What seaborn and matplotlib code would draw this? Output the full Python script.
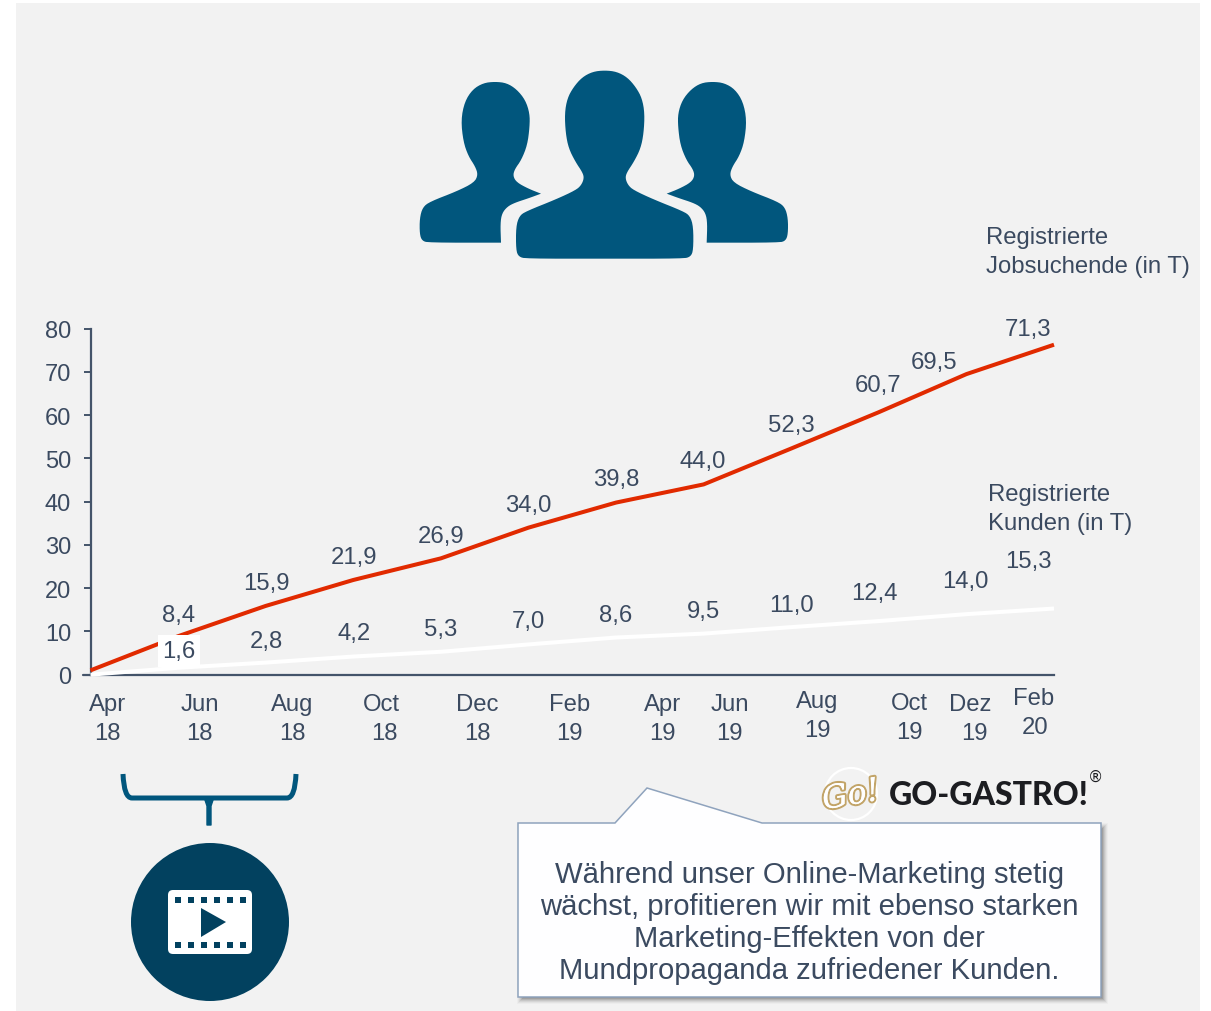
import numpy as np
import pandas as pd
import matplotlib
matplotlib.use("Agg")
import matplotlib.pyplot as plt
import matplotlib.patheffects as pe
from matplotlib.patches import Rectangle, Polygon, Circle, FancyBboxPatch, PathPatch
from matplotlib.path import Path
import seaborn as sns

# data
months = ["Apr", "Jun", "Aug", "Oct", "Dec", "Feb", "Apr", "Jun", "Aug", "Oct", "Dez", "Feb"]
years = ["18", "18", "18", "18", "18", "19", "19", "19", "19", "19", "19", "20"]
jobsuchende = [1.0, 8.9, 15.9, 21.9, 26.9, 34.0, 39.8, 44.0, 52.3, 60.7, 69.5, 76.3]
kunden = [0.0, 1.6, 2.8, 4.2, 5.3, 7.0, 8.6, 9.5, 11.0, 12.4, 14.0, 15.3]
jobsuchende_labels = ["8,4", "15,9", "21,9", "26,9", "34,0", "39,8", "44,0", "52,3", "60,7", "69,5", "71,3"]
kunden_labels = ["1,6", "2,8", "4,2", "5,3", "7,0", "8,6", "9,5", "11,0", "12,4", "14,0", "15,3"]
callout_lines = ["Während unser Online-Marketing stetig",
                 "wächst, profitieren wir mit ebenso starken",
                 "Marketing-Effekten von der",
                 "Mundpropaganda zufriedener Kunden."]

# label centres in picture pixels
job_pos = [(179, 613), (266, 581), (354, 555), (441, 534), (528, 503), (616, 477),
           (703, 459), (791, 423), (878, 383), (934, 360), (1028, 327)]
kun_pos = [(179, 649), (266, 639), (354, 631), (441, 627), (528, 619), (616, 613),
           (703, 609), (791, 603), (874, 591), (965, 579), (1028, 559)]
month_pos = [(107, 703), (199, 703), (292, 703), (381, 703), (477, 703), (569, 703),
             (662, 703), (729, 703), (817, 700), (909, 702), (970, 703), (1033, 697)]
year_pos = [(107, 732), (199, 732), (292, 732), (384, 732), (477, 732), (569, 732),
            (662, 732), (729, 732), (817, 729), (909, 731), (974, 732), (1035, 726)]

TEXT = "#3b4a60"
BLUE = "#01567d"
DARK = "#02415f"
W, H = 1211, 1012

sns.set_theme(style="white", rc={"axes.edgecolor": "#44546a", "axes.linewidth": 1.6})
plt.rcParams["font.family"] = ["Liberation Sans", "DejaVu Sans"]

fig = plt.figure(figsize=(W / 100, H / 100), dpi=100, facecolor="white")

# overlay in pixel coordinates, under the chart
ov = fig.add_axes([0, 0, 1, 1], zorder=0)
ov.set_xlim(0, W)
ov.set_ylim(H - 1, -1)
ov.axis("off")
ov.add_patch(Rectangle((16, 3), 1184, 1010, fc="#f2f2f2", ec="none"))


def put(x, y, s, size=17.2, ha="center", color=TEXT, **kw):
    # y is the middle of the capitals
    return ov.text(x + 0.5, y - 1.5 + 0.36 * size * 100 / 72, s, fontsize=size, ha=ha, va="baseline",
                   color=color, **kw)


def chaikin(pts, n=2):
    pts = np.array(pts, float)
    for _ in range(n):
        nxt = np.roll(pts, -1, axis=0)
        pts = np.column_stack([0.75 * pts + 0.25 * nxt, 0.25 * pts + 0.75 * nxt]).reshape(-1, 2)
    return pts


def from_zoom(pts):
    return [(400 + x / 3, 50 + y / 3) for x, y in pts]


# people icon, outlines
centre_right = [(614, 61), (650, 65), (682, 82), (708, 112), (726, 145), (734, 190), (731, 250),
                (722, 295), (702, 335), (680, 368), (676, 385), (684, 405), (700, 420), (760, 448),
                (850, 484), (870, 498), (880, 530), (880, 600), (872, 620), (850, 626), (614, 626)]
centre = centre_right + [(1228 - x, y) for x, y in centre_right[-2:0:-1]]
side = [(285, 95), (320, 99), (350, 118), (376, 150), (389, 190), (389, 230), (382, 285),
        (364, 330), (344, 358), (339, 378), (350, 397), (385, 416), (423, 431), (423, 431),
        (385, 445), (345, 458), (322, 470), (306, 490), (301, 520), (303, 578), (303, 578),
        (85, 578), (66, 572), (59, 552), (59, 505), (68, 472), (90, 455), (170, 424),
        (222, 398), (234, 375), (226, 350), (205, 318), (190, 275), (183, 210), (194, 155),
        (218, 118), (250, 99)]
ov.add_patch(Polygon(chaikin(from_zoom(centre)), fc=BLUE, ec="none"))
ov.add_patch(Polygon(chaikin(from_zoom(side)), fc=BLUE, ec="none"))
ov.add_patch(Polygon(chaikin(from_zoom([(1223 - x, y) for x, y in side])), fc=BLUE, ec="none"))

# brace
for ex, tx in [(123, 132), (296, 287)]:
    arm = Path([(ex, 774), (ex + (1 if ex < 200 else -1), 798), (tx, 798), (209, 798)],
               [Path.MOVETO, Path.CURVE3, Path.CURVE3, Path.LINETO])
    ov.add_patch(PathPatch(arm, fc="none", ec=BLUE, lw=3.6, capstyle="butt"))
ov.add_patch(Polygon([(204, 797), (214, 797), (211, 806), (211, 825), (207, 825), (207, 806)],
                     fc=BLUE, ec=BLUE, lw=1, joinstyle="round"))

# video button
ov.add_patch(Circle((210, 922), 79, fc=DARK, ec="none"))
ov.add_patch(FancyBboxPatch((172, 894), 76, 56, boxstyle="round,pad=4,rounding_size=5", fc="white", ec="none"))
for hx in [178, 191, 204, 217, 230, 243]:
    ov.add_patch(Rectangle((hx - 3.2, 896.5), 6.4, 6.4, fc=DARK, ec="none"))
    ov.add_patch(Rectangle((hx - 3.2, 942), 6.4, 6.4, fc=DARK, ec="none"))
ov.add_patch(Polygon([(201, 908), (226, 922), (201, 937)], fc=DARK, ec="none"))

# callout with soft shadow
box = [(518, 823), (615, 823), (647, 788), (762, 823), (1101, 823), (1101, 997), (518, 997)]
for grow, a in [(5, 0.03), (4, 0.05), (3, 0.07), (2, 0.09), (1, 0.12), (0, 0.15), (-1, 0.18)]:
    ov.add_patch(Rectangle((522 - grow, 828 - grow), 581 + 2 * grow, 171 + 2 * grow,
                           fc="#333333", ec="none", alpha=a))
ov.add_patch(Polygon(box, fc="#fefeff", ec="#8fa3bd", lw=1.1, joinstyle="miter"))
for line, cy in zip(callout_lines, [873, 905, 937, 969]):
    put(809, cy, line, size=21.1)

# logo
ov.add_patch(Circle((851, 794), 26, fc="none", ec="white", lw=1.6))
ov.text(851, 796, "Go!", fontsize=23, ha="center", va="center", color="white", style="italic",
        family="DejaVu Serif", rotation=10,
        path_effects=[pe.withStroke(linewidth=3, foreground="#c2a468"), pe.Normal()])
ov.text(889, 795, "GO-GASTRO!", fontsize=23, ha="left", va="center", color="#1c1d21",
        family="Lato", weight="black")
ov.text(1095, 776, "®", fontsize=11, ha="center", va="center", color="#1c1d21", family="DejaVu Sans")

# series names
put(985, 236, "Registrierte", ha="left")
put(985, 265, "Jobsuchende (in T)", ha="left")
put(988, 493, "Registrierte", ha="left")
put(988, 522, "Kunden (in T)", ha="left")

# chart
ax = fig.add_axes([90.5 / W, 1 - 675.7 / H, (1054 - 90.5) / W, (675.7 - 329.7) / H], zorder=1)
ax.patch.set_alpha(0)
df = pd.DataFrame({
    "idx": list(range(len(months))) * 2,
    "wert": kunden + jobsuchende,
    "reihe": ["Kunden"] * len(kunden) + ["Jobsuchende"] * len(jobsuchende),
})
sns.lineplot(data=df, x="idx", y="wert", hue="reihe", ax=ax, legend=False, linewidth=2.9,
             palette={"Jobsuchende": "#e12a00", "Kunden": "white"}, errorbar=None)
for line in ax.get_lines():
    line.set_solid_capstyle("butt")
    line.set_zorder(3)
    line.set_clip_on(False)
ax.set_xlim(0, 11)
ax.set_ylim(0, 80)
ax.set_xlabel("")
ax.set_ylabel("")
ax.set_xticks([])
ax.set_yticks(range(0, 81, 10))
ax.tick_params(axis="y", left=True, length=5, width=1.4, color="#44546a", labelsize=17,
               labelcolor=TEXT, pad=9)
sns.despine(ax=ax)
ax.plot([-0.08, 0], [0, 0], color="#44546a", lw=1.6, clip_on=False)

# value labels on top of the chart
for s, (x, y) in zip(jobsuchende_labels, job_pos):
    ax.text(x, y + 8, s, transform=ov.transData, fontsize=17.2, ha="center", va="baseline",
            color=TEXT, zorder=4)
for i, (s, (x, y)) in enumerate(zip(kunden_labels, kun_pos)):
    bg = dict(fc="white", ec="none", pad=3.5) if i == 0 else None
    ax.text(x, y + 8, s, transform=ov.transData, fontsize=17.2, ha="center", va="baseline",
            color=TEXT, bbox=bg, zorder=4)
for m, y_, mp, yp in zip(months, years, month_pos, year_pos):
    put(mp[0], mp[1], m)
    put(yp[0], yp[1], y_)

fig.savefig("out.png", dpi=100, facecolor="white")
